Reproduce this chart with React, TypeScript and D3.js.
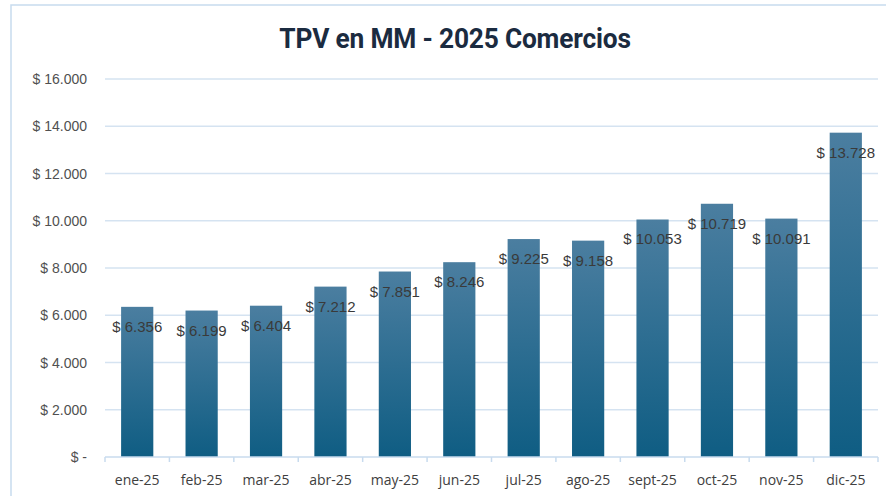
import React from "react";
import * as d3 from "d3";

const categories = ["ene-25","feb-25","mar-25","abr-25","may-25","jun-25","jul-25","ago-25","sept-25","oct-25","nov-25","dic-25"];
const values = [6356, 6199, 6404, 7212, 7851, 8246, 9225, 9158, 10053, 10719, 10091, 13728];
const yTicks = [0, 2000, 4000, 6000, 8000, 10000, 12000, 14000, 16000];
const title = "TPV en MM - 2025 Comercios";

const W = 886, H = 496;
const left = 105, right = 878, top = 79, bottom = 457;

const fmtNum = (v: number) => v.toLocaleString("de-DE");
const fmtTick = (v: number) => (v === 0 ? "$ -" : "$ " + fmtNum(v));

export default function App() {
  const x = d3.scaleBand<string>().domain(categories).range([left, right]).paddingInner(0.5).paddingOuter(0.25);
  const y = d3.scaleLinear().domain([0, 16000]).range([bottom, top]);
  const band = (right - left) / categories.length;
  return (
    <svg width={W} height={H} style={{ position: "absolute", left: 0, top: 0, background: "#fff" }}>
      <defs>
        <linearGradient id="barGrad" x1="0" y1="0" x2="0" y2="1">
          <stop offset="0%" stopColor="#4b7ea0" />
          <stop offset="100%" stopColor="#0f5d83" />
        </linearGradient>
      </defs>
      <rect x={11} y={5} width={900} height={520} fill="#fff" stroke="#c8dbee" strokeWidth={1.5} />
      <text x={455} y={48} textAnchor="middle" fontFamily="Roboto, 'Noto Sans', sans-serif" fontWeight={700} fontSize={28} fill="#1b2b40" style={{ letterSpacing: "-0.2px" }} transform="translate(455,0) scale(0.94,1) translate(-455,0)">{title}</text>
      {yTicks.map((t) => (
        <g key={t}>
          {t > 0 && <line x1={left} x2={right} y1={y(t)} y2={y(t)} stroke="#d5e3f1" strokeWidth={1.5} />}
          <text x={87} y={y(t) + 5} textAnchor="end" fontFamily="'Liberation Sans', Arial, sans-serif" fontSize={14} fill="#505050">{fmtTick(t)}</text>
        </g>
      ))}
      {values.map((v, i) => (
        <rect key={categories[i]} x={x(categories[i])} y={y(v)} width={x.bandwidth()} height={bottom - y(v)} fill="url(#barGrad)" />
      ))}
      <line x1={left} x2={right} y1={bottom} y2={bottom} stroke="#c8dbee" strokeWidth={1.5} />
      {d3.range(categories.length + 1).map((i) => (
        <line key={i} x1={left + i * band} x2={left + i * band} y1={bottom} y2={bottom + 5} stroke="#c8dbee" strokeWidth={1.5} />
      ))}
      {categories.map((c) => (
        <text key={c} x={(x(c) as number) + x.bandwidth() / 2} y={485} textAnchor="middle" fontFamily="'Open Sans', sans-serif" fontSize={14} fill="#404040">{c}</text>
      ))}
      {values.map((v, i) => (
        <text key={"l" + i} x={(x(categories[i]) as number) + x.bandwidth() / 2} y={y(v) + 25} textAnchor="middle" fontFamily="'Liberation Sans', Arial, sans-serif" fontSize={15} fill="#3a3a3a">{"$ " + fmtNum(v)}</text>
      ))}
    </svg>
  );
}
